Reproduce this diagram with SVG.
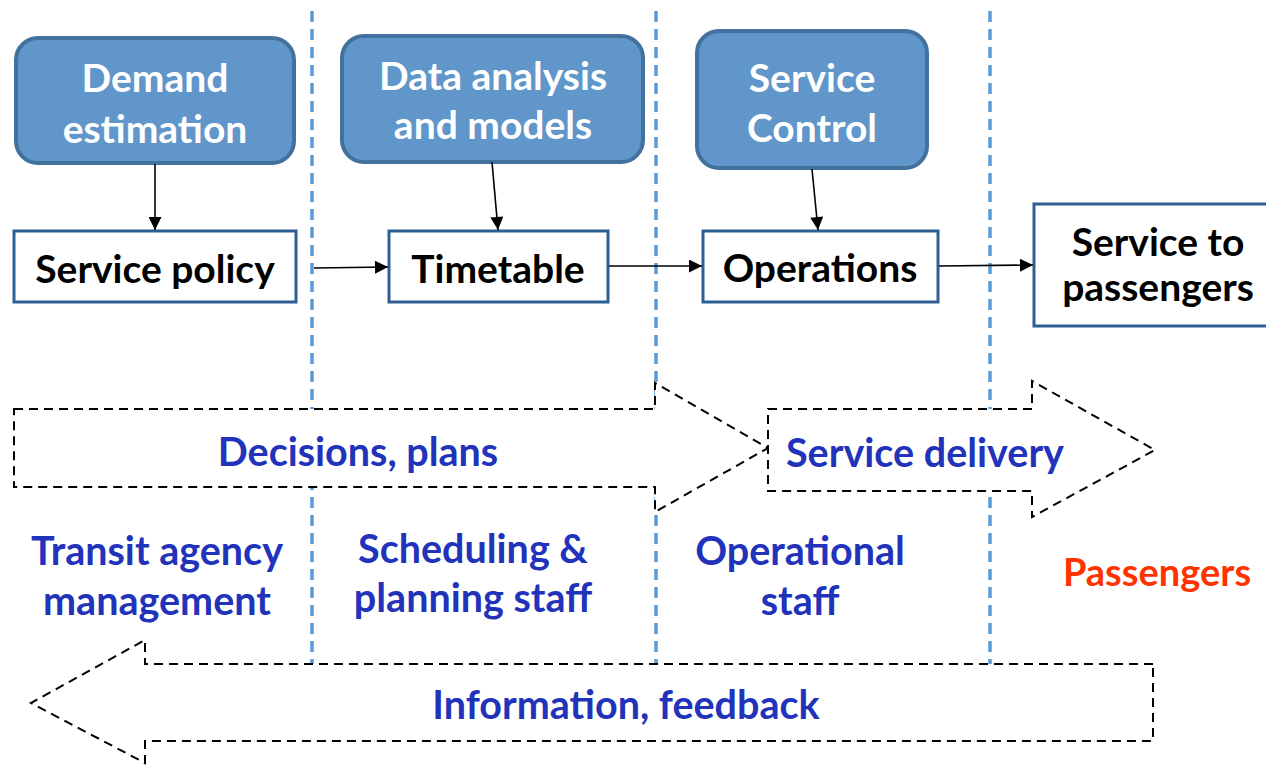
<svg xmlns="http://www.w3.org/2000/svg" width="1266" height="765" viewBox="0 0 1266 765">
<style>
.t{font-family:Lato,"Liberation Sans",sans-serif;font-weight:700;text-anchor:middle}
.w{fill:#ffffff;font-size:39px}
.k{fill:#000000;font-size:39px}
.b{fill:#2233bb;font-size:39.5px}
.r{fill:#ff3300;font-size:38px}
.rb{fill:#6096c9;stroke:#41719c;stroke-width:4}
.wb{fill:#ffffff;stroke:#2e5f93;stroke-width:3}
.sep{stroke:#5b9bd5;stroke-width:3.5;stroke-dasharray:11 7;fill:none}
.da{fill:#ffffff;stroke:#000;stroke-width:2;stroke-dasharray:9 6}
.c{stroke:#000;stroke-width:1.6;fill:none;marker-end:url(#ah)}
</style>
<defs>
<marker id="ah" viewBox="0 0 10 10" refX="10" refY="5" markerWidth="14" markerHeight="13" markerUnits="userSpaceOnUse" orient="auto">
<path d="M0,0 L10,5 L0,10 z" fill="#000"/>
</marker>
</defs>
<rect width="1266" height="765" fill="#ffffff"/>
<g id="separators">
<line class="sep" x1="312" y1="11" x2="312" y2="665"/>
<line class="sep" x1="656" y1="11" x2="656" y2="665"/>
<line class="sep" x1="990" y1="11" x2="990" y2="665"/>
</g>
<g id="arrow-decisions">
<path class="da" d="M14,409 L655,409 L655,383 L768,448 L655,512 L655,487 L14,487 Z"/>
<text class="t b" x="358" y="466">Decisions, plans</text>
</g>
<g id="arrow-delivery">
<path class="da" d="M768,409 L1032,409 L1032,381 L1155,450 L1032,517 L1032,491 L768,491 Z"/>
<text class="t b" x="925" y="467">Service delivery</text>
</g>
<g id="arrow-information">
<path class="da" d="M1153,664 L145,664 L145,640 L31,703 L145,763 L145,741 L1153,741 Z"/>
<text class="t b" x="626" y="719">Information, feedback</text>
</g>
<g id="demand-estimation">
<rect class="rb" x="16" y="38" width="278" height="125" rx="22"/>
<text class="t w" x="155" y="92">Demand</text>
<text class="t w" x="155" y="143">estimation</text>
</g>
<g id="data-analysis">
<rect class="rb" x="342" y="36" width="301" height="126" rx="22"/>
<text class="t w" x="493" y="90">Data analysis</text>
<text class="t w" x="493" y="139">and models</text>
</g>
<g id="service-control">
<rect class="rb" x="697" y="31" width="230" height="137" rx="22"/>
<text class="t w" x="812" y="92">Service</text>
<text class="t w" x="812" y="142">Control</text>
</g>
<g id="service-policy">
<rect class="wb" x="14" y="231" width="282" height="71"/>
<text class="t k" x="155" y="283">Service policy</text>
</g>
<g id="timetable">
<rect class="wb" x="389" y="231" width="219" height="71"/>
<text class="t k" x="498" y="283">Timetable</text>
</g>
<g id="operations">
<rect class="wb" x="703" y="231" width="235" height="71"/>
<text class="t k" x="820" y="282">Operations</text>
</g>
<g id="service-to-passengers">
<rect class="wb" x="1034" y="204" width="240" height="122"/>
<text class="t k" x="1158" y="256">Service to</text>
<text class="t k" x="1158" y="301">passengers</text>
</g>
<g id="connectors">
<line class="c" x1="155" y1="164" x2="155" y2="230"/>
<line class="c" x1="492" y1="162" x2="498" y2="230"/>
<line class="c" x1="812" y1="169" x2="818" y2="230"/>
<line class="c" x1="314" y1="268" x2="388" y2="267"/>
<line class="c" x1="609" y1="266" x2="702" y2="266"/>
<line class="c" x1="939" y1="266" x2="1033" y2="265"/>
</g>
<g id="labels">
<text class="t b" x="157" y="565">Transit agency</text>
<text class="t b" x="157" y="615">management</text>
<text class="t b" x="473" y="563">Scheduling &amp;</text>
<text class="t b" x="473" y="612">planning staff</text>
<text class="t b" x="800" y="565">Operational</text>
<text class="t b" x="800" y="615">staff</text>
<text class="t r" x="1157" y="586">Passengers</text>
</g>
</svg>
